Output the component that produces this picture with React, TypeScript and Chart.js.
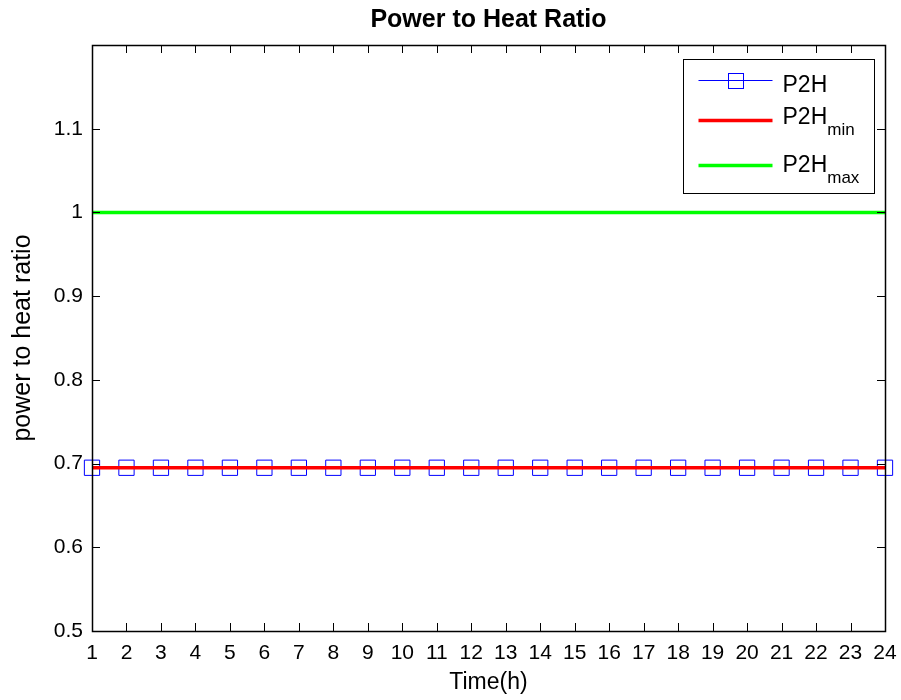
import React, { useEffect, useRef } from 'react';
import { Chart, registerables } from 'chart.js';

Chart.register(...registerables);

const hours = ['1', '2', '3', '4', '5', '6', '7', '8', '9', '10', '11', '12', '13', '14', '15', '16', '17', '18', '19', '20', '21', '22', '23', '24'];
const p2h = [0.695, 0.695, 0.695, 0.695, 0.695, 0.695, 0.695, 0.695, 0.695, 0.695, 0.695, 0.695, 0.695, 0.695, 0.695, 0.695, 0.695, 0.695, 0.695, 0.695, 0.695, 0.695, 0.695, 0.695];
const p2hMin = [0.695, 0.695, 0.695, 0.695, 0.695, 0.695, 0.695, 0.695, 0.695, 0.695, 0.695, 0.695, 0.695, 0.695, 0.695, 0.695, 0.695, 0.695, 0.695, 0.695, 0.695, 0.695, 0.695, 0.695];
const p2hMax = [1, 1, 1, 1, 1, 1, 1, 1, 1, 1, 1, 1, 1, 1, 1, 1, 1, 1, 1, 1, 1, 1, 1, 1];
const yTicks = [0.5, 0.6, 0.7, 0.8, 0.9, 1.0, 1.1];
const yMin = 0.5;
const yMax = 1.2;
const legendItems = [
  { main: 'P2H', sub: '' },
  { main: 'P2H', sub: 'min' },
  { main: 'P2H', sub: 'max' },
];

const FONT = '"Liberation Sans", Arial, sans-serif';

const matlabAxes = {
  id: 'matlabAxes',
  afterDatasetsDraw(chart: any) {
    const { ctx, chartArea: a, scales } = chart;
    const x = scales.x;
    const y = scales.y;
    ctx.save();
    ctx.strokeStyle = '#000';
    ctx.lineWidth = 1;
    ctx.beginPath();
    hours.forEach((_, i) => {
      const px = Math.round(x.getPixelForValue(i)) + 0.5;
      ctx.moveTo(px, a.bottom);
      ctx.lineTo(px, a.bottom - 8);
      ctx.moveTo(px, a.top);
      ctx.lineTo(px, a.top + 8);
    });
    yTicks.forEach((v) => {
      const py = Math.round(y.getPixelForValue(v)) + 0.5;
      ctx.moveTo(a.left, py);
      ctx.lineTo(a.left + 8, py);
      ctx.moveTo(a.right, py);
      ctx.lineTo(a.right - 8, py);
    });
    ctx.stroke();
    ctx.lineWidth = 1.5;
    ctx.strokeRect(Math.round(a.left) + 0.5, Math.round(a.top) + 0.5, Math.round(a.right - a.left), Math.round(a.bottom - a.top));

    // legend
    const bw = 191;
    const bh = 134;
    const bx = Math.round(a.right) - 11 - bw + 0.5;
    const by = Math.round(a.top) + 14 + 0.5;
    ctx.fillStyle = '#fff';
    ctx.fillRect(bx, by, bw, bh);
    ctx.lineWidth = 1;
    ctx.strokeStyle = '#000';
    ctx.strokeRect(bx, by, bw, bh);
    const rowLine = [21, 61, 106];
    const rowText = [32, 64, 112];
    const ds = chart.data.datasets;
    const order = [0, 1, 2];
    order.forEach((k, r) => {
      const d = ds[k];
      const ly = by + rowLine[r];
      const x0 = bx + 15;
      const x1 = bx + 89;
      ctx.strokeStyle = d.borderColor;
      ctx.lineWidth = d.borderWidth;
      ctx.beginPath();
      ctx.moveTo(x0, ly);
      ctx.lineTo(x1, ly);
      ctx.stroke();
      if (d.pointRadius > 0) {
        ctx.lineWidth = 1;
        ctx.strokeStyle = d.pointBorderColor;
        const s = 15;
        ctx.strokeRect(Math.round((x0 + x1) / 2 - s / 2) + 0.5, Math.round(ly - s / 2) + 0.5, s, s);
      }
      const item = legendItems[r];
      ctx.fillStyle = '#000';
      ctx.textBaseline = 'alphabetic';
      ctx.textAlign = 'left';
      ctx.font = `23px ${FONT}`;
      const tx = bx + 99;
      const ty = by + rowText[r];
      ctx.fillText(item.main, tx, ty);
      if (item.sub) {
        const w = ctx.measureText(item.main).width;
        ctx.font = `17px ${FONT}`;
        ctx.fillText(item.sub, tx + w, ty + 11);
      }
    });
    ctx.restore();
  },
};

export default function App() {
  const ref = useRef<HTMLCanvasElement | null>(null);
  useEffect(() => {
    if (!ref.current) return;
    const chart = new Chart(ref.current, {
      type: 'line',
      data: {
        labels: hours,
        datasets: [
          {
            label: 'P2H',
            data: p2h,
            borderColor: '#0000ff',
            borderWidth: 1,
            pointStyle: 'rect',
            pointRadius: 10.8,
            pointBorderColor: '#0000ff',
            pointBackgroundColor: 'rgba(0,0,0,0)',
            pointBorderWidth: 1,
            fill: false,
            order: 2,
            clip: false as any,
          },
          {
            label: 'P2Hmin',
            data: p2hMin,
            borderColor: '#ff0000',
            borderWidth: 3.5,
            pointRadius: 0,
            fill: false,
            order: 0,
          },
          {
            label: 'P2Hmax',
            data: p2hMax,
            borderColor: '#00ff00',
            borderWidth: 3.5,
            pointRadius: 0,
            fill: false,
            order: 1,
          },
        ],
      },
      options: {
        animation: false,
        responsive: false,
        events: [],
        layout: { padding: { left: 0, right: 16, top: 0, bottom: 0 } },
        plugins: {
          legend: { display: false },
          tooltip: { enabled: false },
          title: {
            display: true,
            fullSize: false,
            text: 'Power to Heat Ratio',
            color: '#000',
            font: { family: FONT, size: 25, weight: 'bold', lineHeight: 1.2 },
            padding: { top: 5, bottom: 10 },
          },
        },
        scales: {
          x: {
            type: 'category',
            offset: false,
            grid: { display: false, drawTicks: false },
            border: { display: false },
            ticks: {
              color: '#000',
              font: { family: FONT, size: 21 },
              padding: 10,
              maxRotation: 0,
              autoSkip: false,
            },
            title: {
              display: true,
              text: 'Time(h)',
              color: '#000',
              font: { family: FONT, size: 23 },
              padding: { top: 0, bottom: 4 },
            },
            afterFit: (s: any) => {
              s.height = 69;
              s.paddingRight = 0;
              s.paddingLeft = 0;
            },
          },
          y: {
            type: 'linear',
            min: yMin,
            max: yMax,
            grid: { display: false, drawTicks: false },
            border: { display: false },
            afterBuildTicks: (s: any) => {
              s.ticks = yTicks.map((v) => ({ value: v }));
            },
            ticks: {
              color: '#000',
              font: { family: FONT, size: 21 },
              padding: 9,
              callback: (v: any) => String(Math.round(Number(v) * 10) / 10),
            },
            title: {
              display: true,
              text: 'power to heat ratio',
              color: '#000',
              font: { family: FONT, size: 25 },
              padding: { top: 8, bottom: 0 },
            },
            afterFit: (s: any) => {
              s.width = 92;
            },
          },
        },
      },
      plugins: [matlabAxes],
    });
    return () => chart.destroy();
  }, []);
  return (
    <div style={{ position: 'absolute', left: 0, top: 0, width: 901, height: 700, background: '#fff' }}>
      <canvas ref={ref} width={901} height={700} style={{ width: 901, height: 700 }} />
    </div>
  );
}
